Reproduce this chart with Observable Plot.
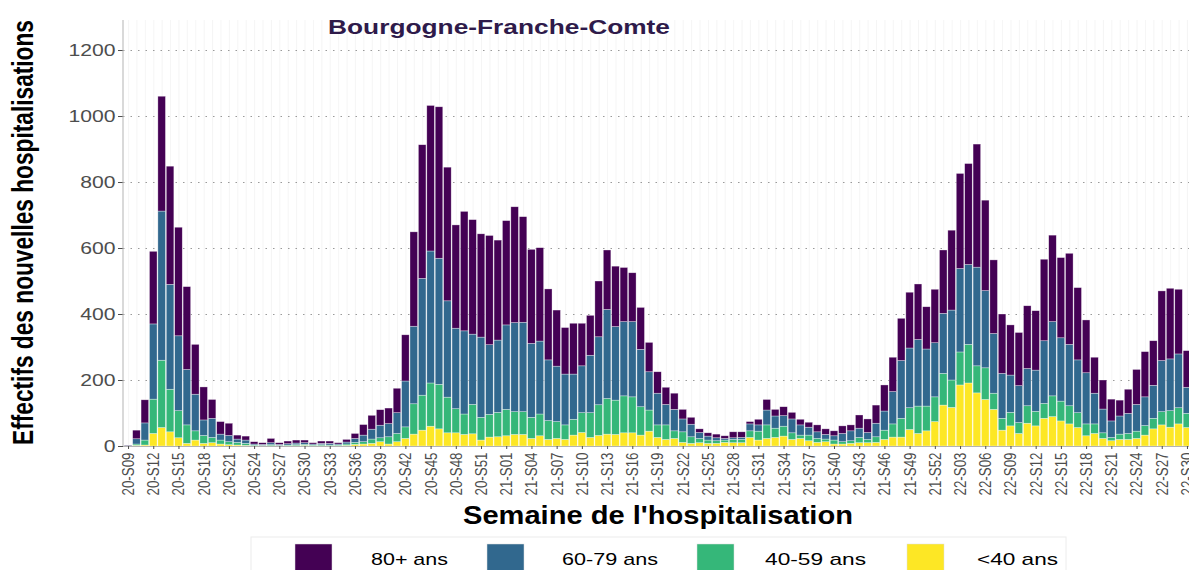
<!DOCTYPE html>
<html>
<head>
<meta charset="utf-8">
<script src="https://cdn.jsdelivr.net/npm/d3@7"></script>
<script src="https://cdn.jsdelivr.net/npm/@observablehq/plot@0.6"></script>
<style>
  html, body { margin: 0; padding: 0; background: #fff; overflow: hidden; }
  #root { position: relative; width: 1189px; height: 570px; overflow: hidden; background: #fff; font-family: 'Liberation Sans', Arial, sans-serif; }
  #chart { position: absolute; left: 0; top: 0; width: 1193px; }
  #chart svg { max-width: none !important; }
  #overlay { position: absolute; left: 0; top: 0; pointer-events: none; }
</style>
</head>
<body>
<div id="root">
  <div id="chart"></div>
  <svg id="overlay" width="1189" height="570"></svg>
</div>
<script>
const weeks = [
"20-S09","20-S10","20-S11","20-S12","20-S13","20-S14","20-S15","20-S16","20-S17","20-S18",
"20-S19","20-S20","20-S21","20-S22","20-S23","20-S24","20-S25","20-S26","20-S27","20-S28",
"20-S29","20-S30","20-S31","20-S32","20-S33","20-S34","20-S35","20-S36","20-S37","20-S38",
"20-S39","20-S40","20-S41","20-S42","20-S43","20-S44","20-S45","20-S46","20-S47","20-S48",
"20-S49","20-S50","20-S51","20-S52","20-S53",
"21-S01","21-S02","21-S03","21-S04","21-S05","21-S06","21-S07","21-S08","21-S09","21-S10",
"21-S11","21-S12","21-S13","21-S14","21-S15","21-S16","21-S17","21-S18","21-S19","21-S20",
"21-S21","21-S22","21-S23","21-S24","21-S25","21-S26","21-S27","21-S28","21-S29","21-S30",
"21-S31","21-S32","21-S33","21-S34","21-S35","21-S36","21-S37","21-S38","21-S39","21-S40",
"21-S41","21-S42","21-S43","21-S44","21-S45","21-S46","21-S47","21-S48","21-S49","21-S50",
"21-S51","21-S52",
"22-S01","22-S02","22-S03","22-S04","22-S05","22-S06","22-S07","22-S08","22-S09","22-S10",
"22-S11","22-S12","22-S13","22-S14","22-S15","22-S16","22-S17","22-S18","22-S19","22-S20",
"22-S21","22-S22","22-S23","22-S24","22-S25","22-S26","22-S27","22-S28","22-S29","22-S30"
];

const tickLabels = ["20-S09","20-S12","20-S15","20-S18","20-S21","20-S24","20-S27","20-S30","20-S33","20-S36","20-S39","20-S42","20-S45","20-S48","20-S51",
"21-S01","21-S04","21-S07","21-S10","21-S13","21-S16","21-S19","21-S22","21-S25","21-S28","21-S31","21-S34","21-S37","21-S40","21-S43","21-S46","21-S49","21-S52",
"22-S03","22-S06","22-S09","22-S12","22-S15","22-S18","22-S21","22-S24","22-S27","22-S30"];

const yTicks = [0, 200, 400, 600, 800, 1000, 1200];

const ageGroups = ["<40 ans", "40-59 ans", "60-79 ans", "80+ ans"];
const ageColors = ["#FDE725", "#35B779", "#31688E", "#440154"];

// weekly new hospitalisations per age group
const under40 = [
0,2,3,38,56,43,25,8,18,8,
10,6,4,3,2,1,1,1,1,1,
1,2,1,1,1,1,2,5,6,8,
13,6,13,23,36,48,60,52,40,40,
35,37,18,27,28,31,35,35,23,31,
20,23,20,33,41,26,32,36,35,40,
40,33,45,26,20,23,11,8,10,8,
8,11,10,10,26,18,23,26,30,20,
23,16,11,13,6,6,8,10,10,11,
20,27,27,50,38,46,74,124,117,185,
191,161,141,111,48,61,38,69,61,84,
89,76,67,56,31,38,23,16,20,20,
23,33,52,64,57,67,56];

const age40_59 = [
1,4,15,104,204,129,82,56,28,24,
16,12,9,8,6,2,1,3,1,2,
3,3,2,3,2,2,4,6,7,13,
12,22,25,35,92,106,131,135,108,73,
62,89,69,69,74,80,69,69,64,66,
57,51,44,48,60,75,93,108,104,112,
109,86,64,38,44,23,32,20,13,10,
8,7,10,10,20,27,41,28,30,20,
10,17,12,8,12,7,8,16,10,17,
28,40,57,66,83,75,75,96,83,100,
117,82,96,49,36,41,33,53,44,45,
63,60,55,45,36,29,17,10,16,18,
22,29,32,40,50,49,43];

const age60_79 = [
1,16,52,228,452,318,227,168,111,47,
58,18,19,10,10,3,3,6,3,4,
5,5,3,4,5,3,6,12,20,30,
38,40,63,139,235,354,400,382,292,244,
252,213,243,211,219,256,270,271,224,221,
184,168,154,137,142,174,206,270,223,225,
228,174,116,96,62,65,39,38,18,12,
9,5,5,6,21,19,45,37,32,42,
31,24,20,14,13,25,30,28,21,41,
58,98,175,181,202,173,164,182,212,253,
242,299,234,181,136,113,112,113,125,190,
225,192,186,160,155,93,72,50,55,61,
81,87,100,155,157,163,79];

const age80plus = [
1,26,70,220,348,358,329,251,151,100,
57,38,37,12,12,7,5,13,5,8,
9,8,4,7,7,4,8,15,32,42,
47,47,74,140,286,405,441,459,405,313,
362,347,313,331,303,316,351,320,285,283,
215,170,141,154,129,121,169,180,183,164,
148,127,89,65,52,49,29,21,11,10,
11,8,18,17,7,17,32,20,27,20,
17,15,21,17,15,23,18,40,41,55,
79,104,128,169,168,128,162,192,242,288,
306,373,274,223,180,152,161,190,180,247,
262,243,276,219,160,109,88,66,48,73,
106,137,135,211,214,196,111];

const series = [under40, age40_59, age60_79, age80plus];
const data = [];
weeks.forEach((w, i) => {
  ageGroups.forEach((g, k) => data.push({week: w, age: g, n: series[k][i]}));
});

const chart = Plot.plot({
  width: 1193,
  height: 500,
  marginLeft: 123,
  marginRight: 1,
  marginTop: 20,
  marginBottom: 54,
  style: {fontFamily: "'Liberation Sans', Arial, sans-serif", background: "transparent", maxWidth: "none"},
  x: {type: "band", domain: weeks, paddingInner: 0.1, paddingOuter: 0.15, align: 0.5},
  y: {domain: [0, 1291]},
  color: {domain: ageGroups, range: ageColors},
  marks: [
    Plot.ruleX(weeks, {x: d => d, stroke: "#f1f1f1", strokeWidth: 0.7}),
    Plot.gridY(yTicks.filter(d => d > 0), {stroke: "#9a9a9a", strokeOpacity: 1, strokeWidth: 1.1, strokeDasharray: "1.5,6"}),
    Plot.barY(data, {x: "week", y: "n", fill: "age", stroke: "white", strokeWidth: 0.6, strokeOpacity: 0.55}),
    Plot.ruleY([0], {stroke: "#b3b3b3"}),
    Plot.axisY({ticks: yTicks, tickFormat: d => String(d), tickSize: 5, tickPadding: 3, fontSize: 16.3, color: "#4d4d4d", label: null}),
    Plot.axisX({ticks: tickLabels, tickRotate: -90, tickSize: 3, tickPadding: 3, fontSize: 17, color: "#4d4d4d", label: null})
  ]
});

chart.style.maxWidth = "none";
document.getElementById("chart").appendChild(chart);

const NS = "http://www.w3.org/2000/svg";
// left axis line along the x scale's start
const xs = chart.scale("x"), ys = chart.scale("y");
const axisLine = document.createElementNS(NS, "line");
axisLine.setAttribute("x1", xs.range[0]);
axisLine.setAttribute("x2", xs.range[0]);
axisLine.setAttribute("y1", ys.range[0]);
axisLine.setAttribute("y2", ys.range[1]);
axisLine.setAttribute("stroke", "#b3b3b3");
chart.appendChild(axisLine);

// condense rotated x tick labels, stretch y tick labels (as in the reference)
let xl = chart.querySelectorAll('g[aria-label="x-axis tick label"] text');
xl.forEach(t => { t.setAttribute("textLength", 43); t.setAttribute("lengthAdjust", "spacingAndGlyphs"); });
let yl = chart.querySelectorAll('g[aria-label="y-axis tick label"] text');
yl.forEach(t => { const w = t.getComputedTextLength(); t.setAttribute("textLength", (w * 1.3).toFixed(1)); t.setAttribute("lengthAdjust", "spacingAndGlyphs"); });

// overlay: titles and legend
const ov = document.getElementById("overlay");
function addText(txt, attrs) {
  const t = document.createElementNS(NS, "text");
  for (const k in attrs) t.setAttribute(k, attrs[k]);
  t.textContent = txt;
  ov.appendChild(t);
  return t;
}
function addRect(attrs) {
  const r = document.createElementNS(NS, "rect");
  for (const k in attrs) r.setAttribute(k, attrs[k]);
  ov.appendChild(r);
}
const FF = "'Liberation Sans', Arial, sans-serif";
addText("Bourgogne-Franche-Comte", {x: 328, y: 33.5, "font-family": FF, "font-weight": "bold", "font-size": 19.5, fill: "#2e1a4a", textLength: 342, lengthAdjust: "spacingAndGlyphs"});
// y title: natural length ~425px, glyphs widened horizontally like the reference
const yt = addText("Effectifs des nouvelles hospitalisations", {transform: "translate(33.3,232.5) scale(1.27,1) rotate(-90)", "text-anchor": "middle", "font-family": FF, "font-weight": "bold", "font-size": 22.7, fill: "#000"});
const ytw = yt.getComputedTextLength();
if (ytw > 0) yt.setAttribute("font-size", (22.7 * 425 / ytw).toFixed(2));
const ytw2 = yt.getComputedTextLength();
if (ytw2 > 0) {
  const fs = parseFloat(yt.getAttribute("font-size"));
  yt.setAttribute("transform", `translate(33.3,232.5) scale(${(28.8 / fs).toFixed(3)},1) rotate(-90)`);
}
addText("Semaine de l'hospitalisation", {x: 463, y: 524, "font-family": FF, "font-weight": "bold", "font-size": 25, fill: "#000", textLength: 390, lengthAdjust: "spacingAndGlyphs"});

// legend
addRect({x: 251, y: 537, width: 815, height: 50, fill: "none", stroke: "#ececec", "stroke-width": 1});
const legendOrder = ["80+ ans", "60-79 ans", "40-59 ans", "<40 ans"];
const legendSwatchX = [295, 487, 697, 907];
const legendTextX = [371, 562, 765, 977];
const legendTextW = [77, 96, 101, 81];
legendOrder.forEach((g, k) => {
  const col = ageColors[ageGroups.indexOf(g)];
  addRect({x: legendSwatchX[k], y: 544, width: 37, height: 30, fill: col, stroke: "#dddddd", "stroke-width": 0.5});
  addText(g, {x: legendTextX[k], y: 565, "font-family": FF, "font-size": 17, fill: "#000", textLength: legendTextW[k], lengthAdjust: "spacingAndGlyphs"});
});
</script>
</body>
</html>
